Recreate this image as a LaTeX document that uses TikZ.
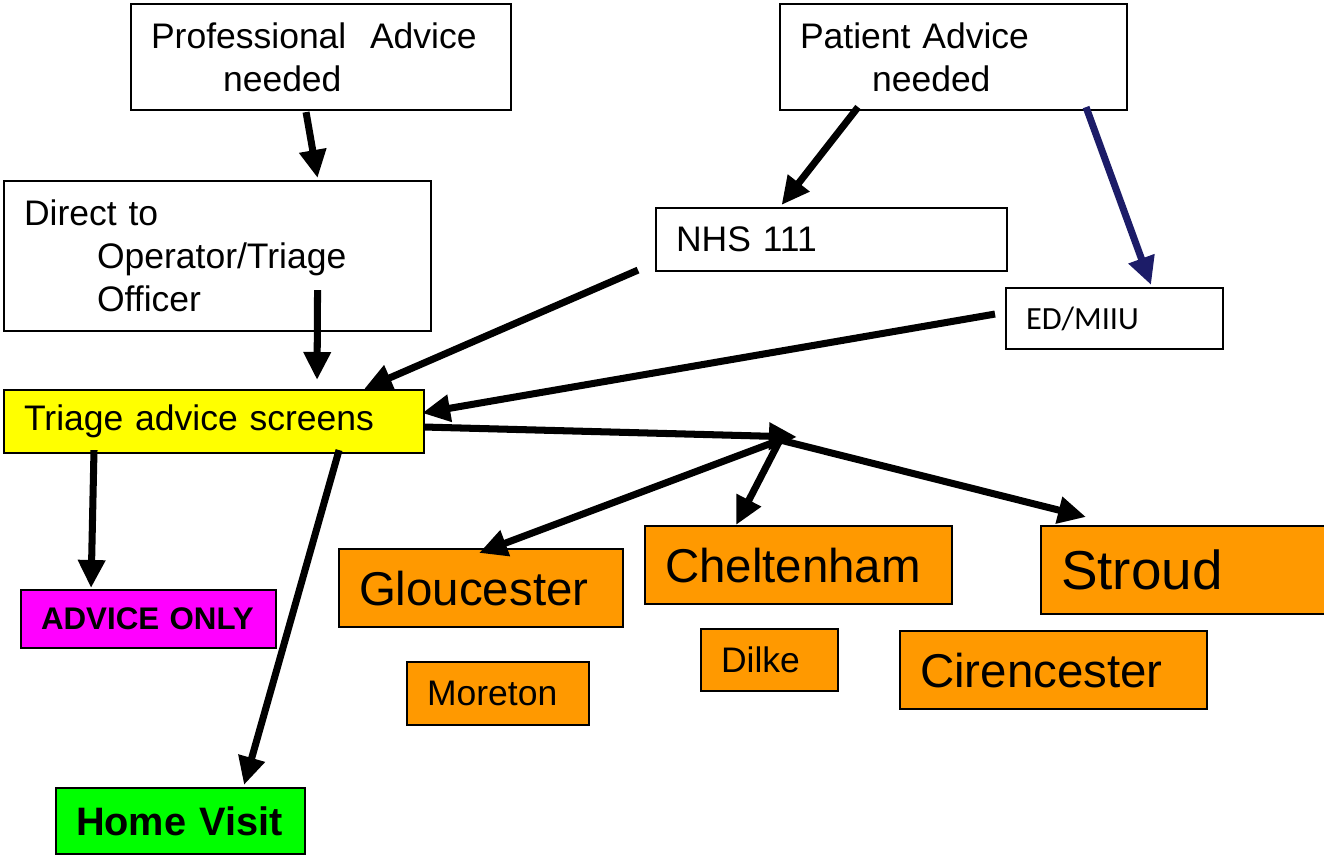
\documentclass[tikz,border=0pt]{standalone}
\usepackage{fontspec}
\setmainfont{Liberation Sans}
\newfontfamily\edfont{Carlito}
\usepackage{tikz}
\usetikzlibrary{arrows.meta, calc}

\definecolor{boxorange}{RGB}{255,153,0}
\definecolor{boxyellow}{RGB}{255,255,0}
\definecolor{boxmagenta}{RGB}{255,0,255}
\definecolor{boxgreen}{RGB}{0,255,0}
\definecolor{arrownavy}{RGB}{28,28,104}

\begin{document}
\begin{tikzpicture}[
    every node/.style={font=\fontsize{10.1}{12.2}\selectfont},
    box/.style={rectangle, draw, line width=0.6pt, anchor=north west, inner xsep=0.2cm, inner ysep=0pt, align=left},
    site/.style={box, fill=boxorange},
    bigsite/.style={site, font=\fontsize{13.5}{16}\selectfont},
    arrow/.style={-{Triangle[length=0.28cm, width=0.26cm]}, line width=2pt}
]
\useasboundingbox (0,0) rectangle (13.24,-8.55);

% Nodes
\node[box, text width=3.40cm, minimum height=1.06cm] (prof) at (1.30,-0.03) {Professional\ \ Advice\\\hspace*{0.72cm}needed};
\node[box, text width=3.07cm, minimum height=1.06cm] (patient) at (7.79,-0.03) {Patient Advice\\\hspace*{0.72cm}needed};
\node[box, text width=3.87cm, minimum height=1.50cm] (direct) at (0.03,-1.80) {Direct to\\\hspace*{0.73cm}Operator/Triage\\\hspace*{0.73cm}Officer};
\node[box, text width=3.11cm, minimum height=0.63cm] (nhs) at (6.55,-2.07) {NHS 111};
\node[box, text width=1.77cm, minimum height=0.61cm, font=\edfont\fontsize{9.2}{11}\selectfont] (ed) at (10.05,-2.87) {ED/MIIU};
\node[box, fill=boxyellow, text width=3.80cm, minimum height=0.63cm] (triage) at (0.03,-3.89) {Triage advice screens};
\node[box, fill=boxmagenta, text width=2.15cm, minimum height=0.58cm, font=\fontsize{8.9}{10.5}\selectfont\bfseries] (advice) at (0.20,-5.89) {ADVICE ONLY};
\node[box, fill=boxgreen, text width=2.09cm, minimum height=0.66cm, font=\fontsize{11.3}{13}\selectfont\bfseries] (home) at (0.55,-7.87) {Home Visit};
\node[bigsite, text width=2.44cm, minimum height=0.78cm] (glou) at (3.38,-5.48) {Gloucester};
\node[site, text width=1.42cm, minimum height=0.63cm] (moreton) at (4.06,-6.61) {Moreton};
\node[bigsite, text width=2.67cm, minimum height=0.78cm] (chelt) at (6.44,-5.25) {Cheltenham};
\node[site, text width=0.97cm, minimum height=0.62cm] (dilke) at (7.00,-6.28) {Dilke};
\node[site, text width=2.44cm, minimum height=0.88cm, font=\fontsize{15.6}{18}\selectfont] (stroud) at (10.40,-5.25) {Stroud};
\node[bigsite, text width=2.67cm, minimum height=0.78cm] (ciren) at (8.99,-6.30) {Cirencester};

\coordinate (hub) at (7.97,-4.37);
\coordinate (fork) at (7.80,-4.40);

% Arrows
\draw[arrow] ([xshift=-0.15cm, yshift=-0.01cm]prof.south) -- ([xshift=1cm, yshift=0.02cm]direct.north);
\draw[arrow] ([xshift=1cm, yshift=0.42cm]direct.south) -- ([xshift=1.03cm, yshift=0.09cm]triage.north);
\draw[arrow] ([xshift=-0.955cm, yshift=0.04cm]patient.south) -- ([xshift=-0.5cm, yshift=0.02cm]nhs.north);
\draw[arrow, arrownavy] ([xshift=1.325cm, yshift=0.04cm]patient.south) -- ([xshift=0.365cm, yshift=0.02cm]ed.north);
\draw[arrow] ([xshift=-0.17cm, yshift=0.02cm]nhs.south west) -- ([xshift=1.5cm]triage.north);
\draw[arrow] ([xshift=-0.1cm, yshift=0.045cm]ed.west) -- ([xshift=-0.03cm, yshift=0.085cm]triage.east);
\draw[arrow] ([yshift=-0.055cm]triage.east) -- (hub);
\draw[arrow] (fork) -- ([xshift=-0.02cm, yshift=-0.05cm]glou.north);
\draw[arrow] (fork) -- ([xshift=-0.625cm]chelt.north);
\draw[arrow] (fork) -- ([xshift=-0.97cm, yshift=0.08cm]stroud.north);
\draw[arrow] ([xshift=0.91cm, yshift=0.04cm]triage.south west) -- ([xshift=-0.575cm, yshift=0.01cm]advice.north);
\draw[arrow] ([xshift=1.25cm, yshift=0.04cm]triage.south) -- ([xshift=0.635cm, yshift=0.02cm]home.north);

\end{tikzpicture}
\end{document}
